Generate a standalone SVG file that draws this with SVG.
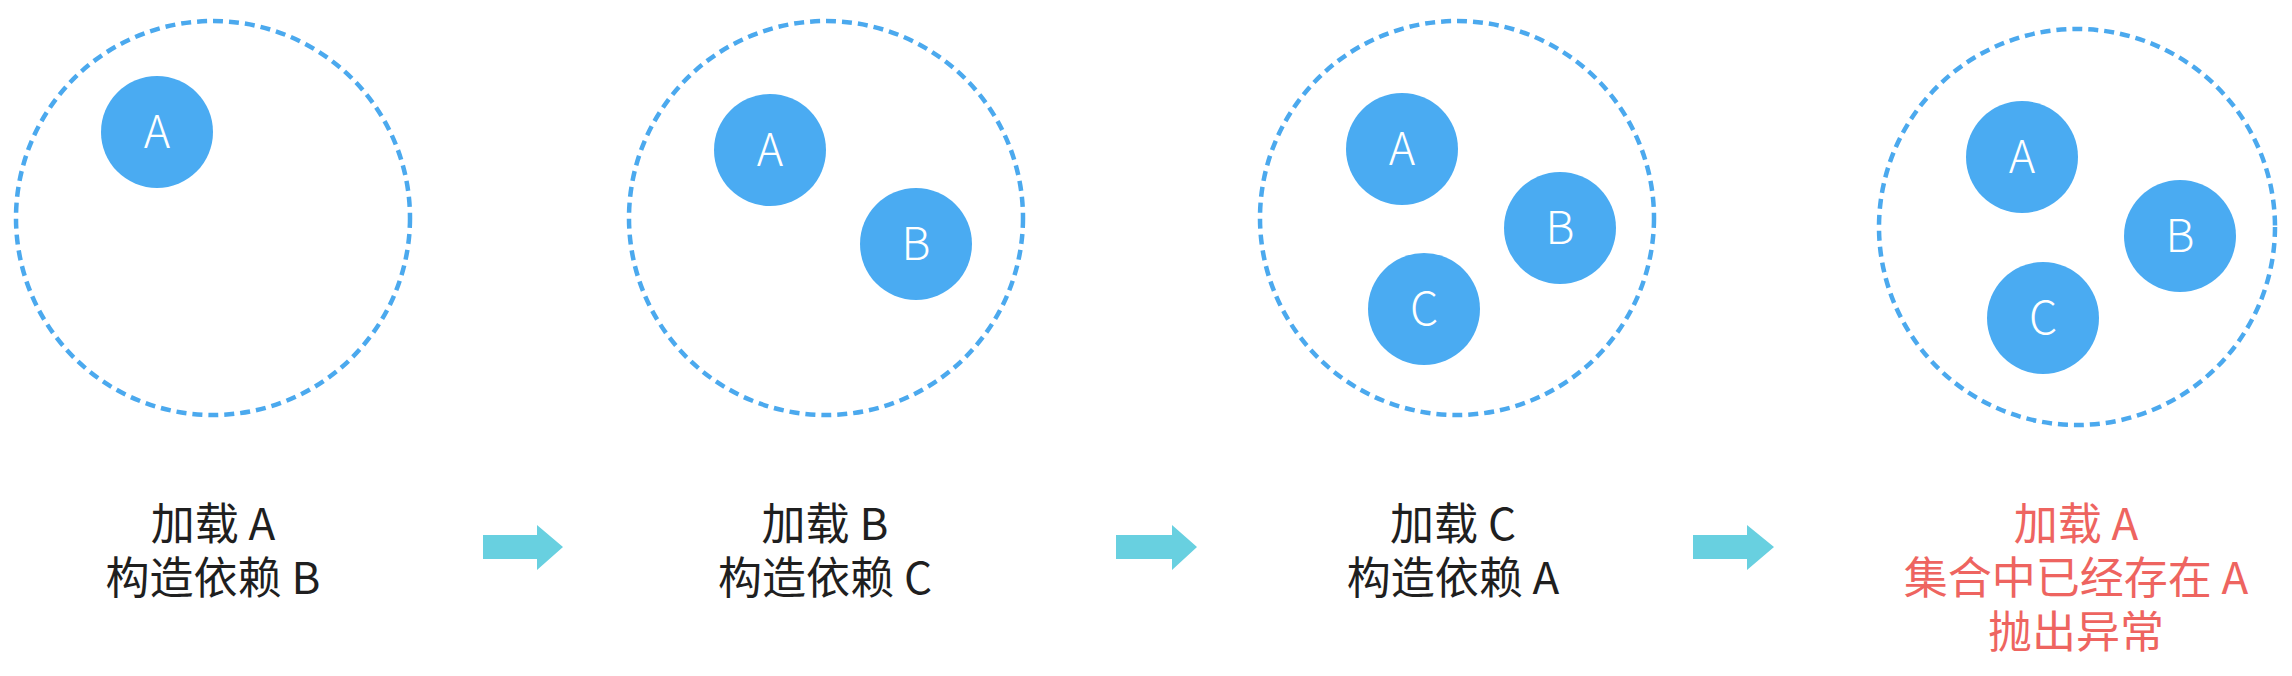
<svg xmlns="http://www.w3.org/2000/svg" width="2292" height="676" viewBox="0 0 2292 676">
<style>
.set{fill:none;stroke:#4BA9EE;stroke-width:4.5;stroke-dasharray:10 6}
.node{fill:#4AABF2}
.lt{fill:#ffffff;font-family:"Noto Sans CJK SC","Noto Sans",sans-serif;font-size:45px;font-weight:300;text-anchor:middle}
.lb{fill:#1f1f1f;font-family:"Noto Sans CJK SC",sans-serif;font-size:44px;text-anchor:middle}
.lr{fill:#EE6460;font-family:"Noto Sans CJK SC",sans-serif;font-size:44px;text-anchor:middle}
.arr{fill:#68D0E0}
</style>
<rect width="2292" height="676" fill="#ffffff"/>
<g id="step1">
<circle class="set" cx="213" cy="218" r="197"/>
<g id="s1-A"><circle class="node" cx="157" cy="132" r="56"/><text class="lt" x="157" y="148">A</text></g>
<text class="lb" x="213" y="540">加载 A</text>
<text class="lb" x="213" y="594">构造依赖 B</text>
</g>
<g id="step2">
<circle class="set" cx="826" cy="218" r="197"/>
<g id="s2-A"><circle class="node" cx="770" cy="150" r="56"/><text class="lt" x="770" y="166">A</text></g>
<g id="s2-B"><circle class="node" cx="916" cy="244" r="56"/><text class="lt" x="916" y="260">B</text></g>
<text class="lb" x="825" y="540">加载 B</text>
<text class="lb" x="825" y="594">构造依赖 C</text>
</g>
<g id="step3">
<circle class="set" cx="1457" cy="218" r="197"/>
<g id="s3-A"><circle class="node" cx="1402" cy="149" r="56"/><text class="lt" x="1402" y="165">A</text></g>
<g id="s3-B"><circle class="node" cx="1560" cy="228" r="56"/><text class="lt" x="1560" y="244">B</text></g>
<g id="s3-C"><circle class="node" cx="1424" cy="309" r="56"/><text class="lt" x="1424" y="325">C</text></g>
<text class="lb" x="1453" y="540">加载 C</text>
<text class="lb" x="1453" y="594">构造依赖 A</text>
</g>
<g id="step4">
<circle class="set" cx="2077" cy="227" r="198"/>
<g id="s4-A"><circle class="node" cx="2022" cy="157" r="56"/><text class="lt" x="2022" y="173">A</text></g>
<g id="s4-B"><circle class="node" cx="2180" cy="236" r="56"/><text class="lt" x="2180" y="252">B</text></g>
<g id="s4-C"><circle class="node" cx="2043" cy="318" r="56"/><text class="lt" x="2043" y="334">C</text></g>
<text class="lr" x="2076" y="540">加载 A</text>
<text class="lr" x="2076" y="594">集合中已经存在 A</text>
<text class="lr" x="2076" y="648">抛出异常</text>
</g>
<g id="connectors">
<polygon class="arr" points="483,535 537,535 537,525 563,547 537,570 537,559 483,559"/>
<polygon class="arr" points="1116,535 1172,535 1172,525 1197,547 1172,570 1172,559 1116,559"/>
<polygon class="arr" points="1693,535 1747,535 1747,525 1774,547 1747,570 1747,559 1693,559"/>
</g>
</svg>
